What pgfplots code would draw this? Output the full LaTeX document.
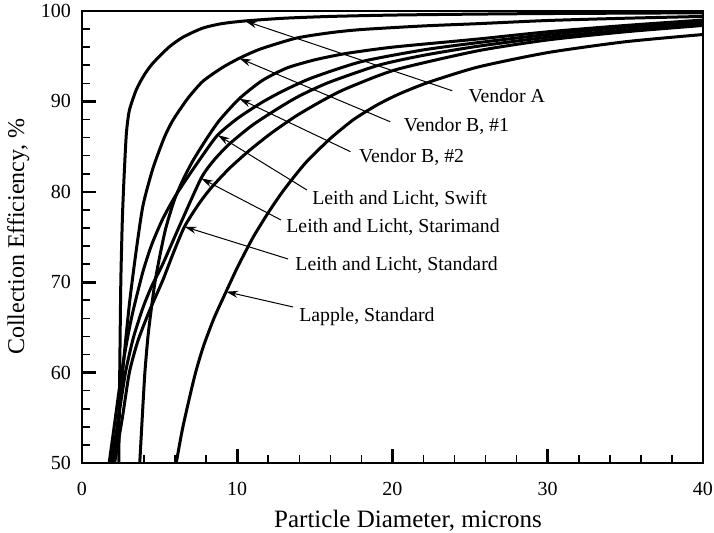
\documentclass[border=0pt]{standalone}
\usepackage{pgfplots}
\pgfplotsset{compat=1.18}
\usepackage{fontspec}
\setmainfont{Liberation Serif}
\usetikzlibrary{arrows.meta}

\begin{document}
\begin{tikzpicture}
\begin{axis}[
  width=310.5pt, height=226pt, scale only axis,
  xmin=0, xmax=40, ymin=50, ymax=100,
  xtick={0,10,20,30,40}, ytick={50,60,70,80,90,100},
  minor x tick num=4, minor y tick num=4,
  tick align=inside, xtick pos=left, ytick pos=left,
  major tick length=7pt, minor tick length=4pt,
  axis line style={line width=1.1pt},
  major tick style={line width=1.3pt, black},
  minor tick style={line width=0.8pt, black},
  /pgf/number format/assume math mode=true,
  tick label style={font=\fontsize{10}{12}\selectfont},
  xticklabel style={yshift=-6pt},
  yticklabel style={xshift=-2pt},
  xlabel={Particle Diameter, microns},
  ylabel={Collection Efficiency, \%},
  every axis x label/.style={at={(axis description cs:0.525,-0.1416)}, anchor=base, font=\fontsize{12.5}{14}\selectfont},
  every axis y label/.style={at={(axis description cs:-0.093,0.5)}, rotate=90, anchor=base, font=\fontsize{12}{14}\selectfont},
  cycle list={{black, solid, mark=none}},
  every axis plot/.append style={line width=1.5pt, smooth, tension=0.4, line join=round},
]
% Vendor A
\addplot coordinates {(2.37,50) (2.43,60) (2.5,70) (2.6,77) (2.72,82) (2.86,86.5) (3.05,89.0) (3.5,91.3) (4.0,92.9) (4.55,94.2) (5.6,96.0) (6.5,97.1) (7.76,98.1) (9,98.6) (10.5,98.9) (13,99.2) (16,99.4) (20,99.55) (25,99.65) (30,99.72) (40,99.8)};
% Vendor B #1
\addplot coordinates {(2.05,50) (2.4,56) (2.75,62.5) (3.08,68) (3.5,73.6) (3.93,78.5) (4.57,82.6) (5.3,86.0) (5.85,87.9) (6.8,90.3) (7.77,92.2) (9,93.7) (10.13,94.77) (11.5,95.8) (13.8,97.0) (16,97.6) (18,97.95) (22,98.35) (25.5,98.6) (30,98.95) (35,99.2) (40,99.4)};
% Vendor B #2
\addplot coordinates {(3.72,50) (3.88,55) (4.05,60) (4.25,64) (4.46,67) (4.7,70) (5.0,72.8) (5.4,76) (5.95,79.1) (6.5,81.3) (7.13,83.4) (8.0,85.8) (8.85,87.9) (10.13,90.3) (11.6,92.3) (13.2,93.7) (15,94.6) (17,95.3) (20,96.0) (25.5,96.9) (30,97.7) (35,98.4) (40,99.0)};
% Leith and Licht, Swift
\addplot coordinates {(1.75,50) (2.15,55) (2.55,60) (2.95,64) (3.3,66.9) (3.93,71.2) (4.5,74.2) (5.2,77.0) (6.0,79.5) (6.8,81.6) (7.8,84.1) (8.74,86.28) (10,88.1) (11.6,89.9) (13,91.2) (14.8,92.6) (18,94.4) (22,95.7) (25.5,96.5) (30,97.4) (35,98.2) (40,98.8)};
% Leith and Licht, Starimand
\addplot coordinates {(1.9,50) (2.35,55) (2.8,60) (3.3,63.8) (3.93,67.2) (4.5,69.6) (5.2,72.0) (6.3,76.3) (7.67,81.49) (8.5,83.5) (9.5,85.3) (11,87.4) (12.7,89.3) (14,90.6) (15.9,92.1) (19.1,94.0) (22,95.1) (25.5,96.1) (30,97.1) (35,97.9) (40,98.6)};
% Leith and Licht, Standard
\addplot coordinates {(2.1,50) (2.6,55) (3.05,60) (3.6,63.5) (4.36,66.9) (5.2,70.2) (5.9,73.3) (6.6,76.14) (7.5,78.6) (8.3,80.4) (9.5,82.6) (10.8,84.6) (12.2,86.5) (13.8,88.4) (15.5,90.1) (17,91.4) (20.2,93.5) (25.5,95.6) (30,96.8) (35,97.7) (40,98.4)};
% Lapple, Standard
\addplot coordinates {(6.07,50) (6.5,54) (7.24,59.5) (7.8,62.8) (8.5,66.0) (9.28,68.95) (10,71.6) (11,74.9) (12,77.7) (13,80.2) (14.4,83.2) (16,85.9) (17.5,88.0) (19,89.6) (20.4,90.8) (22.3,92.1) (25.5,93.8) (30,95.4) (35,96.6) (40,97.4)};

% annotations
\begin{scope}[font=\fontsize{9.9}{11}\selectfont]
\draw[line width=0.5pt, -{Stealth[length=6pt,width=3.5pt]}] (axis cs:23.85,91.18) -- (axis cs:10.51,98.89);
\node[anchor=base west, inner sep=0pt] at (axis cs:24.87,89.93) {Vendor A};
\draw[line width=0.5pt, -{Stealth[length=6pt,width=3.5pt]}] (axis cs:19.85,87.75) -- (axis cs:10.13,94.77);
\node[anchor=base west, inner sep=0pt] at (axis cs:20.71,86.62) {Vendor B, \#1};
\draw[line width=0.5pt, -{Stealth[length=6pt,width=3.5pt]}] (axis cs:17.29,84.44) -- (axis cs:10.13,90.3);
\node[anchor=base west, inner sep=0pt] at (axis cs:17.82,83.19) {Vendor B, \#2};
\draw[line width=0.5pt, -{Stealth[length=6pt,width=3.5pt]}] (axis cs:14.49,80.20) -- (axis cs:8.74,86.28);
\node[anchor=base west, inner sep=0pt] at (axis cs:14.81,78.65) {Leith and Licht, Swift};
\draw[line width=0.5pt, -{Stealth[length=6pt,width=3.5pt]}] (axis cs:12.82,76.88) -- (axis cs:7.67,81.49);
\node[anchor=base west, inner sep=0pt] at (axis cs:13.14,75.55) {Leith and Licht, Starimand};
\draw[line width=0.5pt, -{Stealth[length=6pt,width=3.5pt]}] (axis cs:13.27,72.57) -- (axis cs:6.60,76.14);
\node[anchor=base west, inner sep=0pt] at (axis cs:13.72,71.24) {Leith and Licht, Standard};
\draw[line width=0.5pt, -{Stealth[length=6pt,width=3.5pt]}] (axis cs:13.59,67.26) -- (axis cs:9.28,68.95);
\node[anchor=base west, inner sep=0pt] at (axis cs:13.97,65.60) {Lapple, Standard};
\end{scope}

\coordinate (tl) at (axis cs:-5.282,101.217);
\coordinate (br) at (axis cs:40.709,42.367);
\end{axis}
\pgfresetboundingbox
\path[use as bounding box] (tl) rectangle (br);
\end{tikzpicture}
\end{document}
